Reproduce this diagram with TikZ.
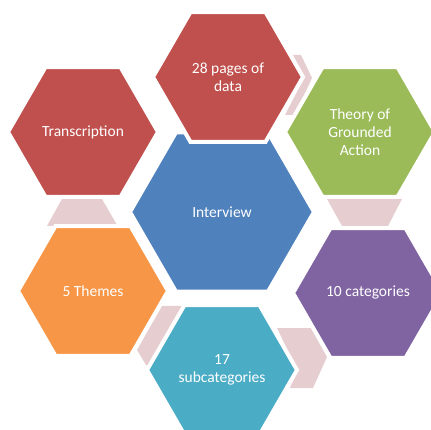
\documentclass[tikz,border=0pt]{standalone}
\usepackage{fontspec}
\setmainfont{Carlito}
\usetikzlibrary{shapes.geometric}
\definecolor{hexred}{HTML}{C0504D}
\definecolor{hexgreen}{HTML}{9BBB59}
\definecolor{hexblue}{HTML}{4F81BD}
\definecolor{hexpurple}{HTML}{8064A2}
\definecolor{hexteal}{HTML}{4BACC6}
\definecolor{hexorange}{HTML}{F79646}
\definecolor{hexpink}{HTML}{E6CED0}
\begin{document}
\begin{tikzpicture}[x=1pt,y=-1pt,
  hexbox/.style={regular polygon,regular polygon sides=6,minimum size=150pt,inner sep=0pt,
    draw=white,line width=4pt,text=white,align=center,font=\fontsize{15.5}{18}\selectfont},
  linkarrow/.style={fill=hexpink}]
\useasboundingbox (0,0) rectangle (431,430);
\clip (0,0) rectangle (431,430);
\fill[linkarrow] (293,55) -- (301,55) -- (312,78) -- (295,115) -- (285,115) -- (304,78) -- cycle;
\fill[linkarrow] (327,199) -- (402,199) -- (388,226) -- (342,226) -- cycle;
\fill[linkarrow] (277,328) -- (311,328) -- (327,357) -- (313,388) -- (290,388) -- (297,370) -- cycle;
\fill[linkarrow] (162,306) -- (182,306) -- (148,365) -- (146,365) -- (137,350) -- cycle;
\fill[linkarrow] (62,199) -- (102,199) -- (117,225) -- (47,226) -- cycle;
\node[hexbox,fill=hexblue,minimum size=184pt] (interview) at (222,212) {Interview};
\node[hexbox,fill=hexred] (pages) at (228,77) {28 pages of\\data};
\node[hexbox,fill=hexred] (transcription) at (83,132) {Transcription};
\node[hexbox,fill=hexgreen] (theory) at (360,132) {Theory of\\Grounded\\Action};
\node[hexbox,fill=hexpurple] (categories) at (368,293) {10 categories};
\node[hexbox,fill=hexteal] (subcategories) at (222,370) {17\\subcategories};
\node[hexbox,fill=hexorange] (themes) at (93,291) {5 Themes};
\end{tikzpicture}
\end{document}
